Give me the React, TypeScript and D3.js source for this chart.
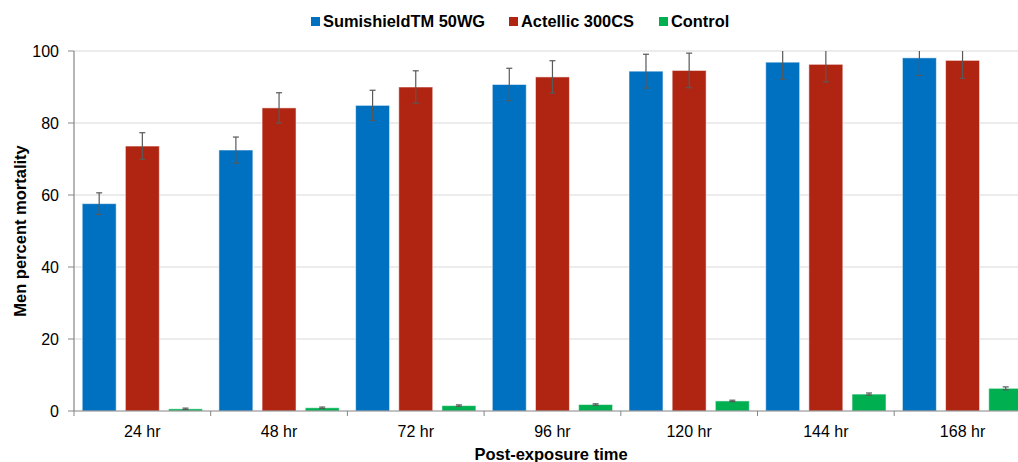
import * as d3 from "d3";

const categories = ["24 hr", "48 hr", "72 hr", "96 hr", "120 hr", "144 hr", "168 hr"];
const seriesNames = ["SumishieldTM 50WG", "Actellic 300CS", "Control"];
const seriesColors = ["#0070C0", "#B02511", "#00B050"];

const sumishield = [57.6, 72.5, 84.9, 90.7, 94.4, 96.9, 98.1];
const sumishieldErr = [3.0, 3.6, 4.2, 4.5, 4.7, 4.8, 4.9];
const actellic = [73.6, 84.2, 90.0, 92.8, 94.6, 96.3, 97.4];
const actellicErr = [3.7, 4.2, 4.5, 4.5, 4.8, 4.9, 5.0];
const control = [0.6, 0.9, 1.5, 1.8, 2.8, 4.7, 6.3];
const controlErr = [0.2, 0.2, 0.2, 0.2, 0.2, 0.3, 0.4];

const yTicks = [0, 20, 40, 60, 80, 100];

const WIDTH = 1018;
const HEIGHT = 462;
const LEFT = 74;
const TOP = 51;
const BOTTOM = 411;
const BAND = 136.7;
const FONT = "'Liberation Sans', Arial, sans-serif";

const App = () => {
  const values = [sumishield, actellic, control];
  const errors = [sumishieldErr, actellicErr, controlErr];

  // category bands (plot runs past the right edge like the original)
  const xScale = d3
    .scaleBand()
    .domain(categories)
    .range([LEFT, LEFT + BAND * categories.length])
    .paddingInner(0)
    .paddingOuter(0);

  // series inside each band
  const xInner = d3
    .scaleBand()
    .domain(seriesNames)
    .range([0, xScale.bandwidth()])
    .paddingInner(0.213)
    .paddingOuter(0.19);

  const yScale = d3.scaleLinear().domain([0, 100]).range([BOTTOM, TOP]);

  const legendX = [311, 509, 659];

  return (
    <svg
      width={WIDTH}
      height={HEIGHT}
      style={{ position: "absolute", left: 0, top: 0, fontFamily: FONT }}
    >
      <defs>
        <clipPath id="plot">
          <rect x={LEFT} y={TOP} width={WIDTH - LEFT} height={BOTTOM - TOP} />
        </clipPath>
      </defs>
      <rect width={WIDTH} height={HEIGHT} fill="#fff" />

      {/* grid */}
      {yTicks.map((t) => (
        <g key={t}>
          {t > 0 && (
            <line x1={LEFT} x2={WIDTH} y1={yScale(t)} y2={yScale(t)} stroke="#d9d9d9" strokeWidth={1.2} />
          )}
          <line x1={LEFT - 6} x2={LEFT} y1={yScale(t)} y2={yScale(t)} stroke="#868686" />
          <text x={59} y={yScale(t)} textAnchor="end" dominantBaseline="central" fontSize={16} fill="#000">
            {t}
          </text>
        </g>
      ))}

      {/* bars */}
      {categories.map((c, i) => (
        <g key={c}>
          {seriesNames.map((s, k) => {
            const x = (xScale(c) ?? 0) + (xInner(s) ?? 0);
            const v = values[k][i];
            return (
              <rect
                key={s}
                x={x}
                y={yScale(v)}
                width={xInner.bandwidth()}
                height={BOTTOM - yScale(v)}
                fill={seriesColors[k]}
                stroke="rgba(255,255,255,0.55)"
                strokeWidth={1}
              />
            );
          })}
        </g>
      ))}

      {/* error bars */}
      <g clipPath="url(#plot)" stroke="#595959" strokeWidth={1.2}>
        {categories.map((c, i) =>
          seriesNames.map((s, k) => {
            const cx = (xScale(c) ?? 0) + (xInner(s) ?? 0) + xInner.bandwidth() / 2;
            const v = values[k][i];
            const e = errors[k][i];
            const y1 = yScale(v + e);
            const y2 = yScale(v - e);
            return (
              <g key={c + s}>
                <line x1={cx} x2={cx} y1={y1} y2={y2} />
                <line x1={cx - 3} x2={cx + 3} y1={y1} y2={y1} />
                <line x1={cx - 3} x2={cx + 3} y1={y2} y2={y2} />
              </g>
            );
          })
        )}
      </g>

      {/* axes */}
      <line x1={LEFT} x2={LEFT} y1={TOP} y2={BOTTOM} stroke="#868686" strokeWidth={1.2} />
      <line x1={LEFT} x2={WIDTH} y1={BOTTOM} y2={BOTTOM} stroke="#868686" strokeWidth={1.2} />
      {categories.map((c) => (
        <g key={c}>
          <line
            x1={xScale(c) ?? 0}
            x2={xScale(c) ?? 0}
            y1={BOTTOM}
            y2={BOTTOM + 5}
            stroke="#868686"
          />
          <text
            x={(xScale(c) ?? 0) + xScale.bandwidth() / 2}
            y={437}
            textAnchor="middle"
            fontSize={16}
            fill="#000"
          >
            {c}
          </text>
        </g>
      ))}

      {/* titles */}
      <text
        x={551}
        y={460}
        textAnchor="middle"
        fontSize={16.5}
        fontWeight="bold"
        fill="#000"
      >
        Post-exposure time
      </text>
      <text
        transform={`translate(26, 231) rotate(-90)`}
        textAnchor="middle"
        fontSize={16.5}
        fontWeight="bold"
        fill="#000"
      >
        Men percent mortality
      </text>

      {/* legend */}
      {seriesNames.map((s, k) => (
        <g key={s}>
          <rect x={legendX[k]} y={17} width={9} height={9} fill={seriesColors[k]} />
          <text x={legendX[k] + 12} y={26.5} fontSize={16.4} fontWeight="bold" fill="#000">
            {s}
          </text>
        </g>
      ))}
    </svg>
  );
};

export default App;
